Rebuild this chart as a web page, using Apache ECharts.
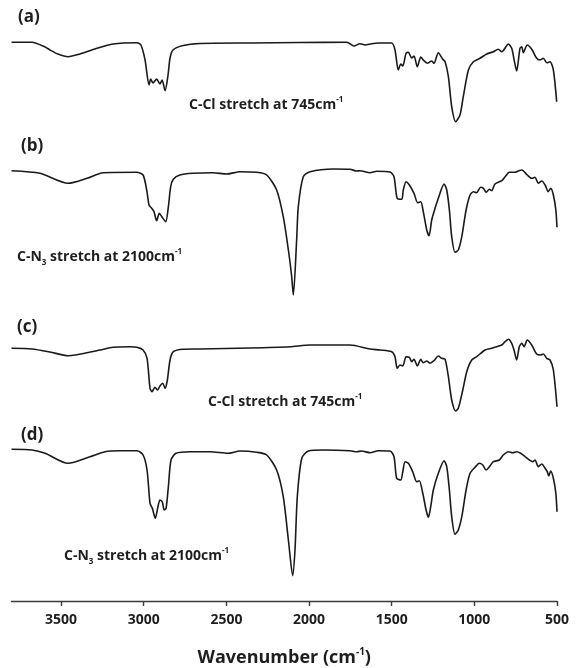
<!DOCTYPE html>
<html>
<head>
<meta charset="utf-8">
<script src="https://cdn.jsdelivr.net/npm/echarts@6/dist/echarts.min.js"></script>
<style>
  html, body { margin: 0; padding: 0; background: #fff; }
  #chart { width: 577px; height: 668px; }
</style>
</head>
<body>
<div id="chart"></div>
<script>
// FTIR spectra, four samples, [wavenumber (cm-1), relative transmittance]
const specA = [[3800,87.7],[3676,87.7],[3597,83],[3567,80],[3519,76],[3458,73.3],[3386,76],[3295,81],[3186,86],[3041,87.3],[3017,85],[2992,70],[2968,45],[2958,51],[2944,47],[2922,51],[2902,46],[2889,50],[2871,39.3],[2853,55],[2841,72],[2823,80],[2768,84.3],[2660,86.5],[2357,87],[2055,87.5],[1772,87.7],[1728,84],[1692,86.3],[1661,85],[1621,86.3],[1583,87],[1500,87],[1480,80],[1460,60],[1445,66],[1433,64],[1413,76.7],[1399,77.7],[1379,72],[1365,74],[1345,63.3],[1324,73],[1309,70],[1284,66.7],[1258,69],[1244,66.7],[1218,77.3],[1191,70.7],[1177,68.3],[1157,53.3],[1137,23.3],[1113,8.3],[1087,15],[1067,33.3],[1036,60],[1006,68.3],[966,71.7],[925,76],[885,78.3],[855,80.7],[834,78.3],[794,86],[774,81.7],[760,70.7],[744,59],[724,81.7],[713,83.3],[704,77.3],[680,85],[653,80.7],[623,71.7],[603,70],[583,71.7],[562,67.3],[542,68.3],[522,60],[502,28.3]];

const specB = [[3800,129.3],[3628,126.7],[3458,116.7],[3343,121.7],[3246,127.3],[3041,127.7],[3004,125],[2982,110],[2968,95],[2952,91.7],[2938,88.3],[2922,79.3],[2906,86.7],[2891,83.3],[2867,78.3],[2851,93.3],[2837,113.3],[2821,120.7],[2781,125],[2702,126.7],[2581,127.3],[2498,126],[2418,128.3],[2317,127.7],[2256,125],[2196,110],[2156,83.3],[2125,50],[2106,25],[2095,5],[2075,60],[2065,93.3],[2035,123.3],[1994,128.3],[1853,131],[1752,130.7],[1712,129],[1692,129.3],[1631,127.3],[1591,128.7],[1510,128],[1486,123.3],[1467,101.7],[1439,100.7],[1430,110],[1413,118.3],[1393,115],[1365,106.7],[1343,97.3],[1324,98.3],[1309,88.3],[1288,70],[1274,64.3],[1258,80],[1244,88.3],[1218,101.7],[1183,116],[1167,110],[1151,90],[1137,63.3],[1117,47.7],[1097,50],[1076,63.3],[1050,90],[1026,105],[1006,108.3],[986,107.3],[962,112.7],[945,111.7],[929,107.7],[909,110.7],[895,109.3],[875,116],[834,119.3],[814,123.3],[788,127.7],[754,127.7],[734,129],[713,130],[680,125],[653,121.7],[633,122.7],[613,116.7],[592,119],[572,115],[553,108.3],[538,111.7],[522,105],[507,90],[500,72.7]];

const specC = [[3800,71.7],[3676,71],[3567,68],[3458,64.3],[3265,70],[3186,72.7],[3083,73.3],[3041,72.7],[3004,70],[2980,61.7],[2962,31.7],[2950,28.3],[2932,32.7],[2916,30],[2902,34],[2885,36.7],[2871,31.7],[2857,40],[2841,60],[2821,68.3],[2762,70.7],[2660,71],[2357,72],[2115,73.3],[1994,75],[1752,75],[1631,71],[1571,70],[1500,68.3],[1480,63.3],[1467,51.7],[1450,55],[1433,54],[1413,63.3],[1393,62.7],[1379,58.3],[1365,60.7],[1345,54],[1324,60.7],[1309,57.3],[1288,59],[1268,56.7],[1244,59.3],[1218,64],[1197,61.7],[1177,60.7],[1157,43.3],[1137,20],[1113,9],[1097,11.7],[1070,30],[1046,48.3],[1016,60],[986,63.3],[935,70],[895,71.7],[865,73.3],[834,75],[814,78.3],[794,80.7],[774,76.7],[760,70],[744,60],[728,73.3],[713,76.7],[699,73.3],[680,80],[653,75],[623,66],[599,65],[583,66],[562,61.7],[542,60],[522,50],[500,13.3]];

const specD = [[3800,130.7],[3676,130],[3597,126.7],[3458,116.7],[3325,123.3],[3234,128.3],[3144,129.3],[3041,129.3],[3004,125],[2980,110],[2962,76.7],[2948,71.7],[2930,61.7],[2914,73.3],[2902,80],[2888,78.3],[2876,70],[2865,71.7],[2851,93.3],[2835,120],[2805,126.7],[2720,128.3],[2599,128.3],[2490,126.7],[2418,129],[2317,127.7],[2256,125],[2196,110],[2156,83.3],[2125,40],[2099,4.3],[2085,30],[2071,83.3],[2044,121.7],[2004,129],[1914,130],[1752,129.3],[1712,128.3],[1682,129],[1631,127.3],[1581,129.3],[1510,129],[1486,123.3],[1470,101.7],[1445,100],[1433,108.3],[1419,118.3],[1399,116.7],[1373,108.3],[1349,98.3],[1333,99.3],[1312,86.7],[1292,70],[1278,62.7],[1264,73.3],[1248,90],[1218,106.7],[1183,119.3],[1167,113.3],[1151,90],[1137,63.3],[1117,45.7],[1097,50],[1076,63.3],[1050,90],[1026,106.7],[996,112.7],[970,116.7],[949,115],[929,110],[909,113.3],[885,118.3],[849,120],[825,125],[794,128.3],[768,127.3],[744,128.3],[720,126.7],[693,123.3],[667,120],[647,118.3],[633,120],[613,113.3],[592,116],[572,111.7],[559,108.3],[550,104],[538,109],[522,101.7],[507,86.7],[500,68.3]];

const tickValues = [3500, 3000, 2500, 2000, 1500, 1000, 500];
const panelLabels = ['(a)', '(b)', '(c)', '(d)'];
const annotations = [
  '{t|C-Cl stretch at 745cm}{sup|-1}',
  '{t|C-N}{sub|3}{t| stretch at 2100cm}{sup|-1}',
  '{t|C-Cl stretch at 745cm}{sup|-1}',
  '{t|C-N}{sub|3}{t| stretch at 2100cm}{sup|-1}'
];

const FONT = '"Open Sans", "Noto Sans", sans-serif';
const INK = '#1a1a1a';
const TEXT = '#1e1e1e';

// panel layout: [top, height, yMin, yMax]
const panels = [
  [30, 100, 0, 100],
  [160, 140, 0, 140],
  [335, 85, 0, 85],
  [440, 161, -21, 140]
];
const spectra = [specA, specB, specC, specD];

const grids = panels.map(p => ({
  left: 11.5, right: 20, top: p[0], height: p[1],
  outerBoundsMode: 'none', containLabel: false
}));

const xAxes = panels.map((p, i) => {
  const last = i === panels.length - 1;
  return {
    type: 'value', gridIndex: i, min: 500, max: 3800, inverse: true,
    show: last, position: 'bottom',
    splitLine: { show: false },
    axisLine: { show: last, onZero: false, lineStyle: { color: '#3a3a3a', width: 1.4 } },
    axisTick: { show: last, inside: false, length: 5, customValues: tickValues,
                lineStyle: { color: '#3a3a3a', width: 1.4 } },
    axisLabel: { show: last, customValues: tickValues, margin: 12,
                 formatter: v => String(v),
                 fontFamily: FONT, fontWeight: 'bold', fontSize: 14, color: TEXT },
    name: last ? '{n|Wavenumber (cm}{s|-1}{n|)}' : '',
    nameLocation: 'middle',
    nameGap: 46,
    nameTextStyle: {
      rich: {
        n: { fontFamily: FONT, fontWeight: 'bold', fontSize: 18, color: TEXT, lineHeight: 22 },
        s: { fontFamily: FONT, fontWeight: 'bold', fontSize: 10, color: TEXT, lineHeight: 10, verticalAlign: 'top' }
      }
    }
  };
});

const yAxes = panels.map((p, i) => ({
  type: 'value', gridIndex: i, min: p[2], max: p[3], show: false, splitLine: { show: false }
}));

const series = spectra.map((d, i) => ({
  type: 'line', xAxisIndex: i, yAxisIndex: i, data: d,
  showSymbol: false, smooth: 0.25, silent: true,
  lineStyle: { color: INK, width: 1.6 }
}));

const richText = {
  t: { fontFamily: FONT, fontWeight: 'bold', fontSize: 14, fill: TEXT, lineHeight: 19, verticalAlign: 'middle' },
  sup: { fontFamily: FONT, fontWeight: 'bold', fontSize: 8, fill: TEXT, lineHeight: 8, verticalAlign: 'top' },
  sub: { fontFamily: FONT, fontWeight: 'bold', fontSize: 8, fill: TEXT, lineHeight: 8, verticalAlign: 'bottom' }
};

// label and annotation placement per panel
const labelPos = [[18, 9], [21, 138], [17, 319], [21, 427]];
const notePos = [[189, 96], [17, 248], [208, 393], [64, 547]];

const graphic = [];
panelLabels.forEach((txt, i) => {
  graphic.push({
    type: 'text', left: labelPos[i][0], top: labelPos[i][1], silent: true,
    style: { text: txt, font: 'bold 17px ' + FONT, fill: TEXT }
  });
});
annotations.forEach((txt, i) => {
  graphic.push({
    type: 'text', left: notePos[i][0], top: notePos[i][1], silent: true,
    style: { text: txt, rich: richText }
  });
});

const chart = echarts.init(document.getElementById('chart'), null, { renderer: 'canvas' });
chart.setOption({
  animation: false,
  backgroundColor: '#ffffff',
  grid: grids,
  xAxis: xAxes,
  yAxis: yAxes,
  series: series,
  graphic: graphic
});
</script>
</body>
</html>
